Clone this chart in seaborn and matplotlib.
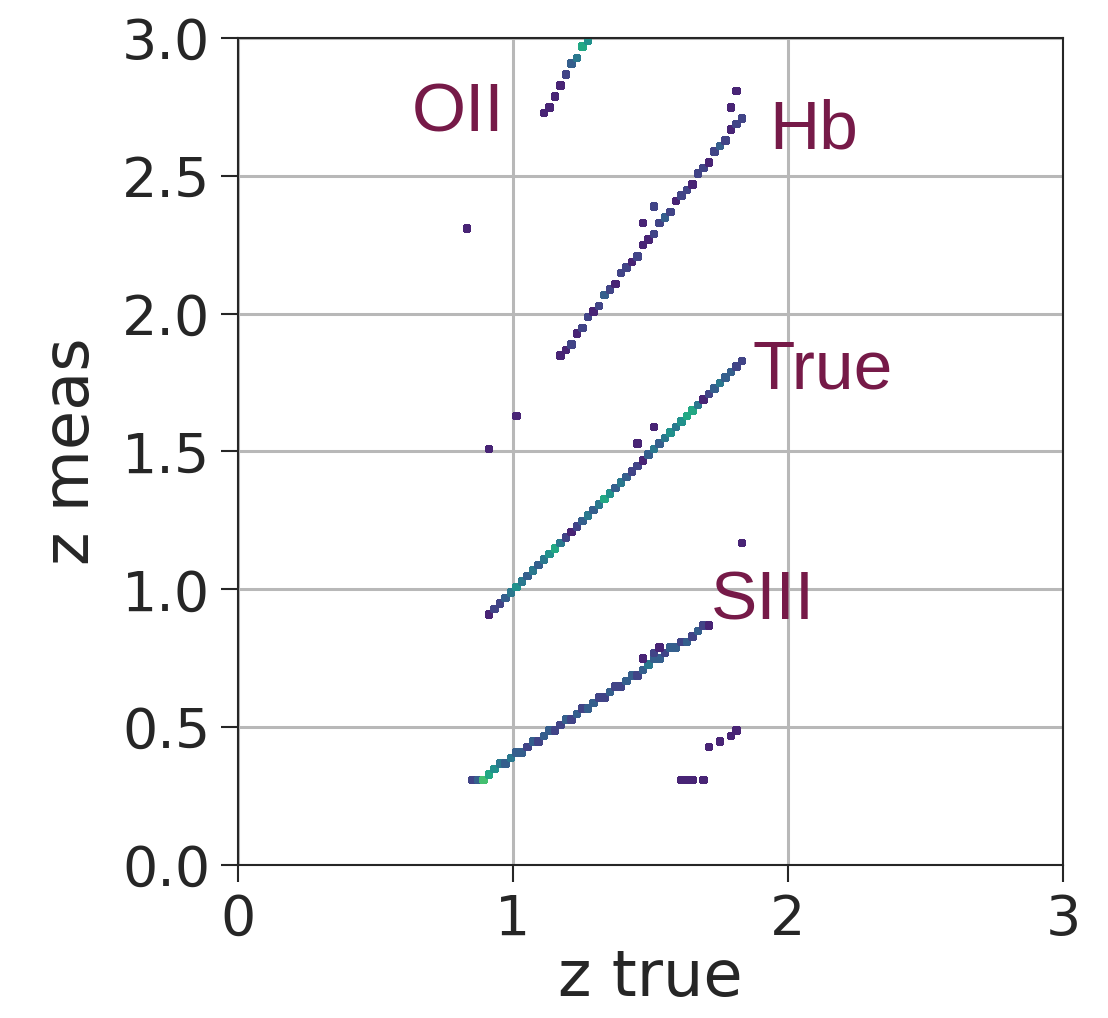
import matplotlib
matplotlib.use("Agg")
import matplotlib.pyplot as plt
import seaborn as sns
import pandas as pd

# line of correct redshifts (z meas = z true)
true_ztrue = [0.93, 0.95, 0.97, 0.99, 1.01, 1.03, 1.05, 1.07, 1.09, 1.11, 1.13, 1.15,
              1.17, 1.19, 1.21, 1.23, 1.25, 1.27, 1.29, 1.31, 1.33, 1.35, 1.37, 1.39,
              1.41, 1.43, 1.45, 1.47, 1.49, 1.51, 1.53, 1.55, 1.57, 1.59, 1.61, 1.63,
              1.65, 1.67, 1.69, 1.71, 1.73, 1.75, 1.77, 1.79, 1.81, 1.83]
true_zmeas = [0.93, 0.95, 0.97, 0.99, 1.01, 1.03, 1.05, 1.07, 1.09, 1.11, 1.13, 1.15,
              1.17, 1.19, 1.21, 1.23, 1.25, 1.27, 1.29, 1.31, 1.33, 1.35, 1.37, 1.39,
              1.41, 1.43, 1.45, 1.47, 1.49, 1.51, 1.53, 1.55, 1.57, 1.59, 1.61, 1.63,
              1.65, 1.67, 1.69, 1.71, 1.73, 1.75, 1.77, 1.79, 1.81, 1.83]
true_count = [2, 2, 3, 4, 5, 4, 3, 4, 3, 4, 5, 6, 4, 2, 1, 2, 3, 4, 3, 4, 6, 5, 3, 4,
              3, 2, 2, 1, 3, 4, 3, 4, 5, 4, 5, 6, 6, 4, 1, 2, 3, 4, 3, 3, 2, 2]

# Hb misidentification
hb_ztrue = [1.17, 1.19, 1.21, 1.23, 1.25, 1.27, 1.29, 1.31, 1.33, 1.35, 1.37, 1.39,
            1.41, 1.43, 1.45, 1.47, 1.49, 1.51, 1.53, 1.55, 1.57, 1.59, 1.61, 1.63,
            1.65, 1.67, 1.69, 1.71, 1.73, 1.75, 1.77, 1.79, 1.81, 1.83]
hb_zmeas = [1.85, 1.88, 1.90, 1.93, 1.95, 1.98, 2.01, 2.03, 2.06, 2.08, 2.11, 2.14,
            2.16, 2.19, 2.21, 2.24, 2.27, 2.29, 2.32, 2.34, 2.37, 2.40, 2.42, 2.45,
            2.47, 2.50, 2.53, 2.55, 2.58, 2.60, 2.63, 2.66, 2.68, 2.71]
hb_count = [1, 1, 2, 1, 2, 2, 1, 2, 3, 2, 1, 2, 2, 1, 2, 1, 1, 2, 2, 3, 2, 1, 2, 2,
            1, 2, 2, 1, 2, 3, 2, 1, 2, 2]

# OII misidentification
oii_ztrue = [1.13, 1.15, 1.17, 1.19, 1.21, 1.23, 1.25, 1.27]
oii_zmeas = [2.76, 2.79, 2.83, 2.86, 2.90, 2.93, 2.96, 2.99]
oii_count = [1, 1, 1, 2, 3, 4, 6, 5]

# SIII misidentification
siii_ztrue = [0.87, 0.89, 0.91, 0.93, 0.95, 0.97, 0.99, 1.01, 1.03, 1.05, 1.07, 1.09,
              1.11, 1.13, 1.15, 1.17, 1.19, 1.21, 1.23, 1.25, 1.27, 1.29, 1.31, 1.33,
              1.35, 1.37, 1.39, 1.41, 1.43, 1.45, 1.47, 1.49, 1.51, 1.53, 1.55, 1.57,
              1.59, 1.61, 1.63, 1.65, 1.67, 1.69, 1.71]
siii_zmeas = [0.30, 0.31, 0.33, 0.34, 0.36, 0.37, 0.38, 0.40, 0.41, 0.42, 0.44, 0.45,
              0.46, 0.48, 0.49, 0.50, 0.52, 0.53, 0.55, 0.56, 0.57, 0.59, 0.60, 0.61,
              0.63, 0.64, 0.65, 0.67, 0.68, 0.69, 0.71, 0.72, 0.74, 0.75, 0.76, 0.78,
              0.79, 0.80, 0.82, 0.83, 0.84, 0.86, 0.87]
siii_count = [3, 7, 6, 5, 4, 3, 4, 3, 3, 2, 3, 2, 3, 3, 2, 2, 3, 2, 3, 2, 3, 3, 2, 2,
              3, 2, 2, 3, 3, 2, 3, 4, 3, 3, 2, 3, 3, 2, 3, 2, 3, 2, 1]

# scattered outliers
out_ztrue = [0.85, 0.90, 0.83, 0.91, 1.00, 1.45, 1.51, 1.83, 1.47, 1.51, 1.78, 1.81,
             1.11, 1.46, 1.50, 1.53, 1.60, 1.63, 1.66, 1.69, 1.70, 1.75, 1.78, 1.81]
out_zmeas = [0.31, 0.90, 2.31, 1.50, 1.63, 1.53, 1.58, 1.16, 2.33, 2.38, 2.75, 2.81,
             2.73, 0.75, 0.77, 0.79, 0.31, 0.31, 0.31, 0.31, 0.42, 0.45, 0.47, 0.48]
out_count = [2, 1, 1, 1, 1, 1, 1, 1, 1, 2, 1, 1,
             1, 1, 2, 1, 1, 1, 1, 1, 1, 1, 1, 1]

labels = ["OII", "Hb", "True", "SIII"]
label_x = [0.63, 1.93, 1.87, 1.72]
label_y = [2.66, 2.60, 1.73, 0.89]

df = pd.DataFrame({
    "z_true": true_ztrue + hb_ztrue + oii_ztrue + siii_ztrue + out_ztrue,
    "z_meas": true_zmeas + hb_zmeas + oii_zmeas + siii_zmeas + out_zmeas,
    "n": true_count + hb_count + oii_count + siii_count + out_count,
})

fig = plt.figure(figsize=(11.08, 10.18), dpi=100)
ax = fig.add_axes([0.2148, 0.1503, 0.7446, 0.8124])
ax.grid(True, color="#b8b8b8", linewidth=2.2)
ax.set_axisbelow(True)

sns.histplot(data=df, x="z_true", y="z_meas", weights="n", bins=150,
             binrange=((0, 3), (0, 3)), cmap="viridis", vmin=0, vmax=10,
             edgecolor="face", linewidth=0.8, ax=ax)

for t, x, y in zip(labels, label_x, label_y):
    ax.text(x, y, t, fontsize=50, color="#761a48", family="Liberation Sans")

ax.set_xlim(0, 3)
ax.set_ylim(0, 3)
ax.set_xticks([0, 1, 2, 3])
ax.set_yticks([0, 0.5, 1, 1.5, 2, 2.5, 3])
ax.set_yticklabels(["0.0", "0.5", "1.0", "1.5", "2.0", "2.5", "3.0"])
ax.tick_params(labelsize=40, length=12, width=1.5, pad=8, colors="#262626")
ax.set_xlabel("z true", fontsize=46, labelpad=0, color="#262626")
ax.set_ylabel("z meas", fontsize=46, labelpad=14, color="#262626")
for s in ax.spines.values():
    s.set_linewidth(1.5)
    s.set_color("#262626")

fig.savefig("out.png", dpi=100)
